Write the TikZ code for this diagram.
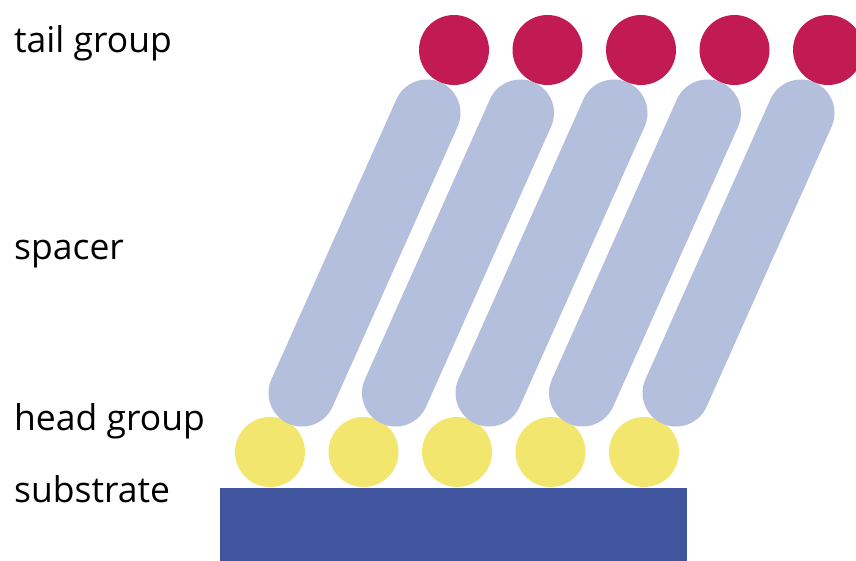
\documentclass[tikz,border=0pt]{standalone}
\usepackage{fontspec}
\setmainfont{Open Sans}
\definecolor{tailred}{HTML}{C21A52}
\definecolor{spacerblue}{HTML}{B4BEDD}
\definecolor{headyellow}{HTML}{F2E66E}
\definecolor{substrateblue}{HTML}{40559E}
\begin{document}
\begin{tikzpicture}[x=1pt,y=-1pt,
  label/.style={anchor=base west, inner sep=0pt, font=\fontsize{35.5}{40}\selectfont},
  tailball/.style={circle, fill=tailred, inner sep=0pt, minimum size=70pt},
  headball/.style={circle, fill=headyellow, inner sep=0pt, minimum size=70pt},
  chain/.style={line width=67pt, line cap=round, draw=spacerblue}]
\useasboundingbox (0,0) rectangle (856,561);
% substrate slab
\node[fill=substrateblue, inner sep=0pt, minimum width=467pt, minimum height=73pt, anchor=north west] (sub) at (220,488) {};
% head groups
\foreach \i in {0,...,4}
  \node[headball] (h\i) at ({270+93.5*\i},452) {};
% spacer chains
\foreach \i in {0,...,4}{
  \coordinate (b\i) at ({302+93.5*\i},393);
  \coordinate (e\i) at ({427+93.5*\i},113);
  \draw[chain] (b\i) -- (e\i);
}
% tail groups
\foreach \i in {0,...,4}
  \node[tailball] (t\i) at ({454+93.5*\i},50) {};
% labels
\node[label] (lt) at (14,53) {tail group};
\node[label] (ls) at (14,259) {spacer};
\node[label] (lh) at (14,430) {head group};
\node[label] (lsub) at (14,502) {substrate};
\end{tikzpicture}
\end{document}
